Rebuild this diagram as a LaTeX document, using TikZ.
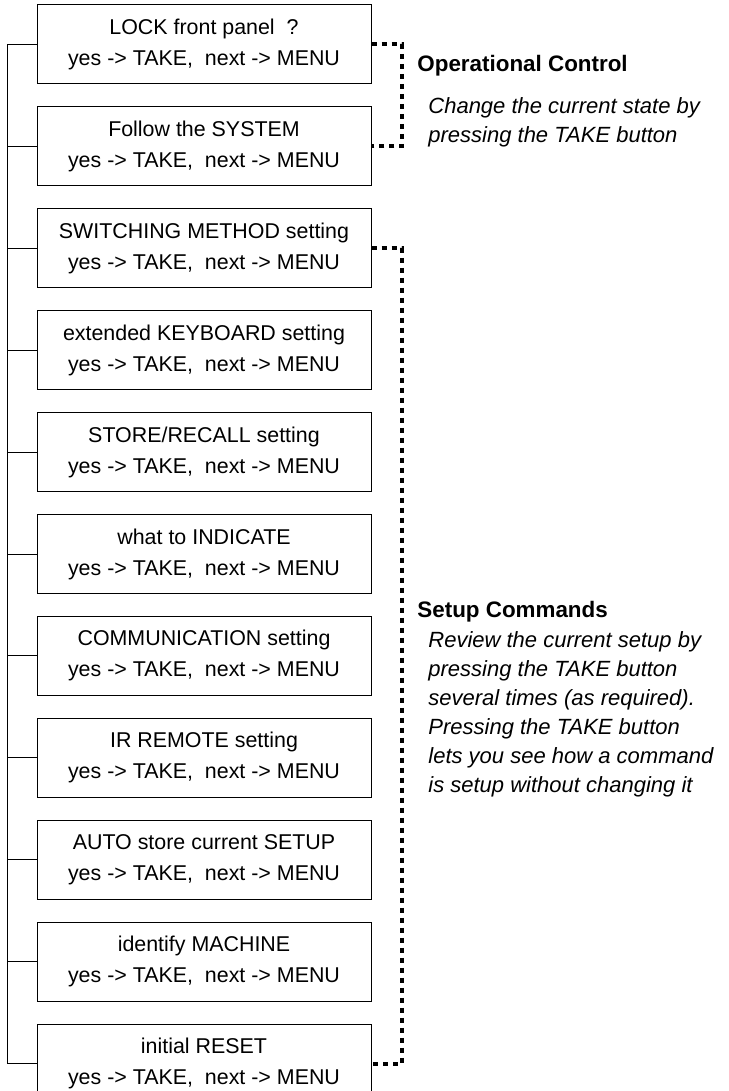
\documentclass[tikz,border=0pt]{standalone}
\usepackage{fontspec}
\setmainfont{Liberation Sans}
\usetikzlibrary{positioning}
\begin{document}
\begin{tikzpicture}[x=0.5pt,y=-0.5pt,
		node distance=10.95pt,
		menubox/.style={draw, line width=0.5pt, minimum width=167pt, minimum height=39.5pt,
			inner sep=0pt, align=center, font=\fontsize{10.7}{15.5}\selectfont},
		bracket/.style={line width=2pt, dash pattern=on 2.5pt off 2.5pt},
		headtext/.style={inner sep=0pt, anchor=base west, font=\fontsize{11.2}{14.5}\selectfont\bfseries},
		notetext/.style={inner sep=0pt, anchor=base west, align=left, font=\fontsize{11}{14.5}\selectfont\itshape}]

		\useasboundingbox (0,0) rectangle (728,1091);

		\node[menubox] (lock) at (204,44.5) {LOCK front panel\ \ ?\\ yes -> TAKE,\ \ next -> MENU};
		\node[menubox, below=of lock] (follow) {Follow the SYSTEM\\yes -> TAKE,\ \ next -> MENU};
		\node[menubox, below=of follow] (switching) {SWITCHING METHOD setting\\yes -> TAKE,\ \ next -> MENU};
		\node[menubox, below=of switching] (keyboard) {extended KEYBOARD setting\\yes -> TAKE,\ \ next -> MENU};
		\node[menubox, below=of keyboard] (store) {STORE/RECALL setting\\yes -> TAKE,\ \ next -> MENU};
		\node[menubox, below=of store] (indicate) {what to INDICATE\\yes -> TAKE,\ \ next -> MENU};
		\node[menubox, below=of indicate] (comm) {COMMUNICATION setting\\yes -> TAKE,\ \ next -> MENU};
		\node[menubox, below=of comm] (remote) {IR REMOTE setting\\yes -> TAKE,\ \ next -> MENU};
		\node[menubox, below=of remote] (autostore) {AUTO store current SETUP\\yes -> TAKE,\ \ next -> MENU};
		\node[menubox, below=of autostore] (machine) {identify MACHINE\\yes -> TAKE,\ \ next -> MENU};
		\node[menubox, below=of machine] (reset) {initial RESET\\yes -> TAKE,\ \ next -> MENU};

		\coordinate (rail) at (7,0);
		\coordinate (opline) at (402,0);

		\draw[line width=0.5pt] (lock.west) -- (lock.west -| rail) -- (reset.west -| rail) -- (reset.west); %Linea sinistra
		\foreach \m in {follow,switching,keyboard,store,indicate,comm,remote,autostore,machine}
			\draw[line width=0.5pt] (\m.west) -- (\m.west -| rail);

		\draw[bracket] (lock.east) -- (lock.east -| opline) -- (follow.east -| opline) -- (follow.east); %Operational
		\draw[bracket] (switching.east) -- (switching.east -| opline) -- (reset.east -| opline) -- (reset.east); %Setup

		\node[headtext] (opctrl) at (417,72) {Operational Control};
		\node[notetext] (opnote) at (428,143) {Change the current state by\\pressing the TAKE button}; %base = ultima riga

		\node[headtext] (setup) at (417,617) {Setup Commands};
		\node[notetext] (setupnote) at (428,792) {Review the current setup by\\pressing the TAKE button\\several times (as required).\\Pressing the TAKE button\\lets you see how a command\\is setup without changing it};

	\end{tikzpicture}
\end{document}
